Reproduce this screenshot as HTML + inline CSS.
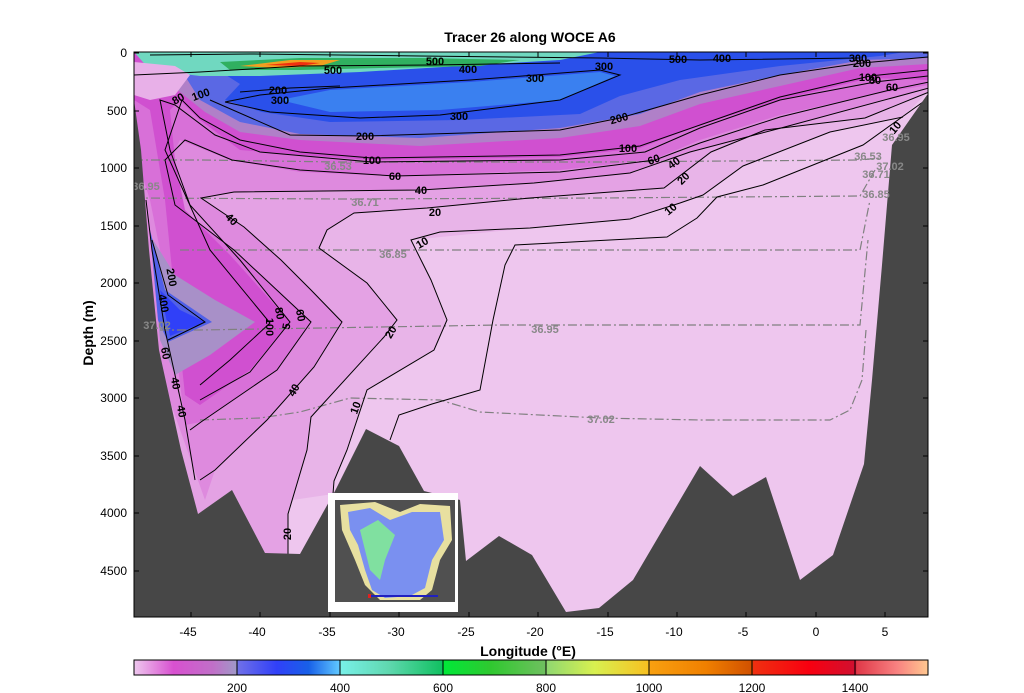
<!DOCTYPE html>
<html><head><meta charset="utf-8"><style>
html,body{margin:0;padding:0;background:#fff;width:1024px;height:693px;overflow:hidden}
svg text{font-family:"Liberation Sans",Arial,sans-serif}
</style></head><body>
<svg width="1024" height="693" viewBox="0 0 1024 693" xmlns="http://www.w3.org/2000/svg">
<defs>
<clipPath id="pc"><rect x="134" y="52" width="794" height="565"/></clipPath>
<linearGradient id="cb" x1="0" x2="1" y1="0" y2="0">
<stop offset="0" stop-color="#eec8ee"/><stop offset="0.05" stop-color="#d850d0"/><stop offset="0.1" stop-color="#c070c8"/><stop offset="0.129" stop-color="#a098c8"/>
<stop offset="0.13" stop-color="#7070e8"/><stop offset="0.18" stop-color="#3040f8"/><stop offset="0.22" stop-color="#1860e8"/><stop offset="0.259" stop-color="#60c8ff"/>
<stop offset="0.26" stop-color="#78f0e8"/><stop offset="0.32" stop-color="#60d8b0"/><stop offset="0.389" stop-color="#10c060"/>
<stop offset="0.39" stop-color="#00e838"/><stop offset="0.45" stop-color="#30c830"/><stop offset="0.519" stop-color="#70c060"/>
<stop offset="0.52" stop-color="#90d870"/><stop offset="0.58" stop-color="#d8f050"/><stop offset="0.649" stop-color="#f8c020"/>
<stop offset="0.65" stop-color="#f8a010"/><stop offset="0.72" stop-color="#f08000"/><stop offset="0.779" stop-color="#d05000"/>
<stop offset="0.78" stop-color="#f03010"/><stop offset="0.85" stop-color="#f80010"/><stop offset="0.909" stop-color="#d01030"/>
<stop offset="0.91" stop-color="#e03848"/><stop offset="0.96" stop-color="#f88080"/><stop offset="1" stop-color="#ffc890"/>
</linearGradient>
</defs>
<text x="530" y="42" font-size="14" font-weight="bold" text-anchor="middle">Tracer 26 along WOCE A6</text>
<g clip-path="url(#pc)">
<rect x="134" y="52" width="794" height="565" fill="#eec6ee"/>
<polygon fill="#e8b4e8" points="134,52 928,52 928,92 903,117 830,132 743,166 703,195 630,219 530,228 411,240 431,280 447,320 434,350 367,390 347,450 334,481 333,494 198,514 134,300"/>
<polygon fill="#e4a2e4" points="134,52 928,52 929,92 865,118 765,130 711,152 664,188 530,198 427,208 354,213 327,230 319,248 367,283 397,320 384,337 311,417 307,450 288,514 288,555 265,553 232,490 198,514 134,300"/>
<polygon fill="#de8ade" points="134,52 928,52 929,88 781,128 690,152 630,173 534,183 421,190 234,192 201,198 244,227 281,260 311,290 342,322 314,367 267,420 215,470 205,500 134,300"/>
<polygon fill="#d870d8" points="134,52 929,52 929,85 870,95 780,115 700,140 655,159 560,170 395,176 300,172 230,160 180,140 165,170 175,205 234,250 311,322 277,370 201,422 185,425 170,300 150,200 134,150"/>
<polygon fill="#d050d0" points="134,52 929,52 929,80 870,78 780,100 700,125 640,148 560,157 372,160 300,155 240,150 200,120 180,100 170,110 175,160 185,210 230,255 290,322 250,370 200,405 185,395 175,300 165,200 150,110 134,100"/>
<polygon fill="#b080c8" points="150,52 929,52 929,64 860,68 780,86 700,104 640,126 560,138 420,146 300,140 240,132 205,112 180,92 160,72"/>
<polygon fill="#5a68e4" points="160,52 929,52 929,58 862,60 780,75 700,92 640,114 560,128 420,138 300,134 240,122 200,100 185,76"/>
<polygon fill="#2a50ea" points="190,52 905,52 880,56 780,66 680,80 620,96 580,114 460,120 330,122 262,112 225,100 240,84"/>
<polygon fill="#3a80f0" points="280,100 330,90 470,82 600,72 615,76 560,100 440,110 330,112"/>
<polygon fill="#70d8c0" points="134,52 600,52 560,60 460,66 360,72 260,76 200,76 150,70"/>
<polygon fill="#30b060" points="220,62 300,58 420,58 520,60 480,66 380,68 300,70 230,70"/>
<polygon fill="#f0a020" points="240,66 290,60 340,60 320,66 280,68"/>
<polygon fill="#f03010" points="265,65 300,62 320,63 300,66"/>
<polygon fill="#e8b0e8" points="134,62 175,66 190,75 175,95 150,100 134,95"/>
<polygon fill="#a890c8" points="150,235 175,275 215,300 255,322 210,355 175,375 160,340"/>
<polygon fill="#5060e8" points="150,230 165,290 212,322 168,342 158,320"/>
<polygon fill="#3040f8" points="160,290 180,310 205,322 170,336"/>
<g fill="none" stroke="#808080" stroke-width="1.2" stroke-dasharray="9,3,2,3">
<polyline points="134,160 200,160 340,162 600,162 860,160 880,158"/>
<polyline points="134,198 340,199 600,198 860,196 875,170"/>
<polyline points="180,250 400,250 700,250 860,250 870,200"/>
<polyline points="160,330 200,330 500,325 700,325 860,325 868,240"/>
<polyline points="200,420 260,418 300,412 350,398 440,400 480,412 600,418 700,420 830,420 850,410 862,380 866,330"/>
</g>
<g fill="none" stroke="#000" stroke-width="1">
<polyline points="923,102 863,145 763,185 717,197 697,218 667,237 515,245 505,265 493,320 480,390 432,404 399,415 390,440"/>
<polyline points="903,117 830,132 743,166 703,195 680,203 630,219 530,228 440,232 411,240 431,280 447,320 434,350 367,390 347,450 334,481 333,494"/>
<polyline points="929,92 865,118 765,130 711,152 664,188 530,198 427,208 354,213 327,230 319,248 367,283 397,320 384,337 311,417 307,450 288,514 288,555"/>
<polyline points="929,88 781,128 690,152 630,173 534,183 421,190 234,192 201,198 244,227 281,260 311,290 342,322 314,367 267,420 215,470 200,480"/>
<polyline points="929,82 890,90 780,117 700,143 655,160 560,172 395,176 300,170 232,160 185,140 165,160 175,205 234,250 311,322 277,370 201,422 190,430"/>
<polyline points="928,76 875,82 780,100 700,128 645,152 560,160 372,162 260,152 215,135 175,105 160,100 170,150 190,205 240,260 290,322 250,372 200,400"/>
<polyline points="928,70 870,76 780,97 700,125 640,146 560,155 372,158 300,152 240,140 200,118 182,100 165,150 210,250 270,323 230,360 200,385"/>
<polyline points="928,57 862,63 780,75 700,95 620,118 560,130 365,136 290,135 210,100"/>
<polyline points="240,92 290,88 340,86"/>
<polyline points="225,102 260,95 330,88 470,80 600,70 620,75 560,100 440,115 360,118 270,112 225,102"/>
<polyline points="150,55 250,54 420,56 600,58 700,60 860,58"/>
<polyline points="134,75 200,72 300,66 430,65 560,63"/>
<polyline points="152,240 168,295 205,322 168,340"/>
<polyline points="146,200 152,250 165,330 185,420 195,480"/>
</g>
<g font-size="11" font-weight="bold" fill="#000" text-anchor="middle">
<text x="290" y="327" transform="rotate(-80 290 327)">5</text>
<text x="424" y="246" transform="rotate(-30 424 246)">10</text>
<text x="359" y="409" transform="rotate(-70 359 409)">10</text>
<text x="673" y="212" transform="rotate(-40 673 212)">10</text>
<text x="435" y="216">20</text>
<text x="394" y="334" transform="rotate(-60 394 334)">20</text>
<text x="686" y="181" transform="rotate(-45 686 181)">20</text>
<text x="291" y="534" transform="rotate(-90 291 534)">20</text>
<text x="421" y="194">40</text>
<text x="229" y="222" transform="rotate(45 229 222)">40</text>
<text x="297" y="392" transform="rotate(-60 297 392)">40</text>
<text x="676" y="166" transform="rotate(-35 676 166)">40</text>
<text x="395" y="180">60</text>
<text x="297" y="316" transform="rotate(80 297 316)">60</text>
<text x="655" y="163" transform="rotate(-20 655 163)">60</text>
<text x="892" y="91">60</text>
<text x="276" y="314" transform="rotate(80 276 314)">80</text>
<text x="180" y="102" transform="rotate(-30 180 102)">80</text>
<text x="875" y="84">80</text>
<text x="266" y="327" transform="rotate(90 266 327)">100</text>
<text x="372" y="164">100</text>
<text x="628" y="152">100</text>
<text x="868" y="81">100</text>
<text x="202" y="98" transform="rotate(-20 202 98)">100</text>
<text x="365" y="140">200</text>
<text x="278" y="94">200</text>
<text x="620" y="122" transform="rotate(-15 620 122)">200</text>
<text x="862" y="67">200</text>
<text x="280" y="104">300</text>
<text x="459" y="120">300</text>
<text x="535" y="82">300</text>
<text x="604" y="70">300</text>
<text x="858" y="62">300</text>
<text x="468" y="73">400</text>
<text x="722" y="62">400</text>
<text x="333" y="74">500</text>
<text x="678" y="63">500</text>
<text x="435" y="65">500</text>
<text x="168" y="278" transform="rotate(80 168 278)">200</text>
<text x="160" y="304" transform="rotate(80 160 304)">400</text>
<text x="162" y="354" transform="rotate(80 162 354)">60</text>
<text x="172" y="384" transform="rotate(80 172 384)">40</text>
<text x="178" y="412" transform="rotate(80 178 412)">40</text>
<text x="898" y="130" transform="rotate(-50 898 130)">10</text>
</g>
<polygon fill="#474747" points="134,52 134,100 141,150 149,250 159,350 181,450 198,514 232,490 265,553 300,554 335,491 366,429 399,446 424,491 460,500 466,561 499,536 532,555 566,612 599,608 633,580 700,466 733,496 766,477 800,580 833,555 864,464 872,380 882,265 892,145 927,95 928,95 928,617 134,617"/>
<g font-size="11" font-weight="bold" fill="#888" text-anchor="middle">
<text x="338" y="170">36.53</text>
<text x="365" y="206">36.71</text>
<text x="393" y="258">36.85</text>
<text x="545" y="333">36.95</text>
<text x="601" y="423">37.02</text>
<text x="157" y="329">37.02</text>
<text x="146" y="190">36.95</text>
<text x="868" y="160">36.53</text>
<text x="890" y="170">37.02</text>
<text x="876" y="178">36.71</text>
<text x="876" y="198">36.85</text>
<text x="896" y="141">36.95</text>
</g>
<rect x="328" y="493" width="130" height="119" fill="#fff"/>
<rect x="335" y="500" width="120" height="102" fill="#505050"/>
<polygon fill="#e8e0a0" points="340,505 375,502 400,512 420,504 450,506 452,540 440,560 432,590 420,600 380,600 365,585 355,560 342,530"/>
<polygon fill="#7a90f0" points="348,512 370,508 390,520 412,512 440,512 444,540 432,560 425,588 410,596 385,598 372,590 365,570 358,545 350,530"/>
<polygon fill="#80e0a0" points="360,530 378,520 395,535 385,560 380,580 370,570"/>
<polyline points="370,596 438,596" stroke="#2020c0" stroke-width="2" fill="none"/>
<rect x="368" y="594" width="3" height="4" fill="#e02020"/>
</g>
<rect x="134" y="52" width="794" height="565" fill="none" stroke="#000" stroke-width="1"/>
<g stroke="#000" stroke-width="1">
<path d="M134,53h5M134,111h5M134,168h5M134,226h5M134,283h5M134,341h5M134,398h5M134,456h5M134,513h5M134,571h5"/>
<path d="M928,53h-5M928,111h-5M928,168h-5M928,226h-5M928,283h-5M928,341h-5M928,398h-5M928,456h-5M928,513h-5M928,571h-5"/>
<path d="M191,617v-5M260,617v-5M330,617v-5M399,617v-5M469,617v-5M538,617v-5M608,617v-5M677,617v-5M746,617v-5M816,617v-5M885,617v-5"/>
<path d="M191,52v5M260,52v5M330,52v5M399,52v5M469,52v5M538,52v5M608,52v5M677,52v5M746,52v5M816,52v5M885,52v5"/>
</g>
<g font-size="12" text-anchor="end">
<text x="127" y="57">0</text><text x="127" y="115">500</text><text x="127" y="172">1000</text><text x="127" y="230">1500</text><text x="127" y="287">2000</text><text x="127" y="345">2500</text><text x="127" y="402">3000</text><text x="127" y="460">3500</text><text x="127" y="517">4000</text><text x="127" y="575">4500</text>
</g>
<g font-size="12" text-anchor="middle">
<text x="188" y="636">-45</text><text x="257" y="636">-40</text><text x="327" y="636">-35</text><text x="396" y="636">-30</text><text x="466" y="636">-25</text><text x="535" y="636">-20</text><text x="605" y="636">-15</text><text x="674" y="636">-10</text><text x="743" y="636">-5</text><text x="816" y="636">0</text><text x="885" y="636">5</text>
</g>
<text x="93" y="333" font-size="14" font-weight="bold" text-anchor="middle" transform="rotate(-90 93 333)">Depth (m)</text>
<text x="528" y="656" font-size="14" font-weight="bold" text-anchor="middle">Longitude (°E)</text>
<rect x="134" y="660" width="794" height="15" fill="url(#cb)" stroke="#000"/>
<g stroke="#000"><path d="M237,660v15M340,660v15M443,660v15M546,660v15M649,660v15M752,660v15M855,660v15"/></g>
<g font-size="12" text-anchor="middle">
<text x="237" y="692">200</text><text x="340" y="692">400</text><text x="443" y="692">600</text><text x="546" y="692">800</text><text x="649" y="692">1000</text><text x="752" y="692">1200</text><text x="855" y="692">1400</text>
</g>
</svg>
</body></html>
